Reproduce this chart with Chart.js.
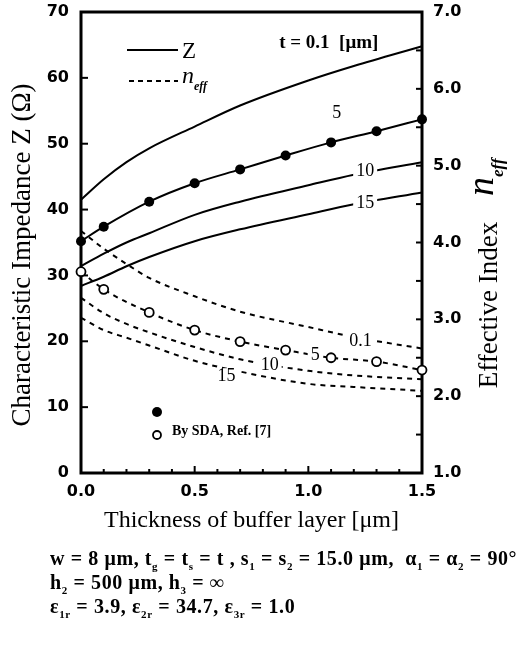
<!DOCTYPE html>
<html>
<head>
<meta charset="utf-8">
<script src="https://cdn.jsdelivr.net/npm/chart.js@4.4.1/dist/chart.umd.min.js"></script>
<style>
  html, body { margin: 0; padding: 0; background: #fff; }
  #wrap { position: relative; width: 519px; height: 647px; }
  #notes { position: absolute; left: 50px; top: 546px; font-family: "Liberation Serif", serif; font-weight: bold;
           font-size: 20px; letter-spacing: 0.6px; line-height: 24px; color: #000; white-space: nowrap; }
  #notes sub { font-size: 11px; vertical-align: -5px; line-height: 0; }
</style>
</head>
<body>
<div id="wrap">
  <canvas id="myChart" width="519" height="647"></canvas>
  <div id="notes">
    <div>w = 8 μm, t<sub>g</sub> = t<sub>s</sub> = t , s<sub>1</sub> = s<sub>2</sub> = 15.0 μm, &nbsp;α<sub>1</sub> = α<sub>2</sub> = 90°</div>
    <div>h<sub>2</sub> = 500 μm, h<sub>3</sub> = ∞</div>
    <div>ε<sub>1r</sub> = 3.9, ε<sub>2r</sub> = 34.7, ε<sub>3r</sub> = 1.0</div>
  </div>
</div>
<script>
// buffer layer thickness [um]
let thickness = [0, 0.1, 0.2, 0.3, 0.5, 0.7, 1.0, 1.2, 1.5];
let sdaThickness = [0, 0.1, 0.3, 0.5, 0.7, 0.9, 1.1, 1.3, 1.5];

// characteristic impedance Z (ohm), t = 0.1 / 5 / 10 / 15 um
let zT01 = [41.5, 44.6, 47.2, 49.3, 52.6, 55.8, 59.6, 61.8, 64.8];
let zT5  = [35.2, 37.4, 41.2, 44.0, 46.1, 48.2, 50.2, 51.9, 53.7];
let zT10 = [31.4, 33.3, 35.0, 36.4, 39.2, 41.2, 43.7, 45.3, 47.2];
let zT15 = [28.4, 29.8, 31.4, 32.8, 35.2, 37.0, 39.3, 40.8, 42.6];

// effective index n_eff
let nT01 = [4.15, 3.92, 3.72, 3.54, 3.30, 3.10, 2.90, 2.77, 2.62];
let nT5  = [3.62, 3.39, 3.09, 2.86, 2.71, 2.60, 2.50, 2.45, 2.34];
let nT10 = [3.28, 3.08, 2.94, 2.83, 2.64, 2.48, 2.33, 2.27, 2.22];
let nT15 = [3.02, 2.86, 2.76, 2.66, 2.46, 2.32, 2.16, 2.12, 2.07];

let xTickLabels = ['0.0', '0.5', '1.0', '1.5'];
let zTickLabels = ['0', '10', '20', '30', '40', '50', '60', '70'];
let nTickLabels = ['1.0', '2.0', '3.0', '4.0', '5.0', '6.0', '7.0'];

// curve labels, placed in data units
let curveLabels = [
  { text: '5',  x: 1.125, v: 54.6, axis: 'y',  bg: false },
  { text: '10', x: 1.25,  v: 45.8, axis: 'y',  bg: true },
  { text: '15', x: 1.25,  v: 40.9, axis: 'y',  bg: true },
  { text: '0.1', x: 1.23, v: 2.72, axis: 'y2', bg: true },
  { text: '5',  x: 1.03,  v: 2.53, axis: 'y2', bg: true },
  { text: '10', x: 0.83,  v: 2.40, axis: 'y2', bg: true },
  { text: '15', x: 0.64,  v: 2.26, axis: 'y2', bg: true }
];

let pts = (xs, ys) => xs.map((x, i) => ({ x: x, y: ys[i] }));

let solid = (xs, ys, extra) => Object.assign({
  data: pts(xs, ys), yAxisID: 'y', borderColor: '#000', borderWidth: 2,
  pointRadius: 0, cubicInterpolationMode: 'monotone', clip: false
}, extra || {});

let dashed = (xs, ys, extra) => Object.assign({
  data: pts(xs, ys), yAxisID: 'y2', borderColor: '#000', borderWidth: 2, borderDash: [5, 5],
  pointRadius: 0, cubicInterpolationMode: 'monotone', clip: false
}, extra || {});

let tick = (ctx, x1, y1, x2, y2) => { ctx.beginPath(); ctx.moveTo(x1, y1); ctx.lineTo(x2, y2); ctx.stroke(); };

// keep the plot box fixed: no extra room for half tick labels
let fixBox = size => s => {
  Object.assign(s, size);
  s.paddingTop = 0; s.paddingBottom = 0; s.paddingLeft = 0; s.paddingRight = 0;
};

let decor = {
  id: 'decor',
  beforeDatasetsDraw(chart) {
    let { ctx, chartArea: a, scales } = chart;
    ctx.save();
    ctx.strokeStyle = '#000';
    ctx.lineWidth = 3;
    ctx.strokeRect(a.left, a.top, a.right - a.left, a.bottom - a.top);
    ctx.lineWidth = 2;
    for (let i = 1; i < 15; i++) {
      let px = scales.x.getPixelForValue(i / 10);
      tick(ctx, px, a.bottom, px, a.bottom - (i % 5 === 0 ? 7 : 4));
    }
    for (let v = 10; v < 70; v += 10) {
      let py = scales.y.getPixelForValue(v);
      tick(ctx, a.left, py, a.left + 7, py);
    }
    for (let v = 1.5; v < 7; v += 0.5) {
      let py = scales.y2.getPixelForValue(v);
      tick(ctx, a.right, py, a.right - 6, py);
    }
    ctx.restore();
  },
  afterDatasetsDraw(chart) {
    let { ctx, chartArea: a, scales } = chart;
    ctx.save();
    ctx.fillStyle = '#000';
    ctx.textAlign = 'center';
    ctx.textBaseline = 'middle';
    ctx.font = '18px "Liberation Serif"';
    curveLabels.forEach(l => {
      let px = scales.x.getPixelForValue(l.x);
      let py = scales[l.axis].getPixelForValue(l.v);
      if (l.bg) {
        let w = ctx.measureText(l.text).width;
        ctx.fillStyle = '#fff';
        ctx.fillRect(px - w / 2 - 3, py - 8, w + 6, 16);
        ctx.fillStyle = '#000';
      }
      ctx.fillText(l.text, px, py);
    });

    ctx.font = 'bold 19px "Liberation Serif"';
    ctx.fillText('t = 0.1  [μm]', scales.x.getPixelForValue(1.09), scales.y.getPixelForValue(65.3));

    // legend (lines)
    let lx = a.left + 46, ly = a.top + 38;
    ctx.lineWidth = 2;
    ctx.strokeStyle = '#000';
    tick(ctx, lx, ly, lx + 51, ly);
    ctx.setLineDash([5, 4]);
    tick(ctx, lx + 2, ly + 31, lx + 51, ly + 31);
    ctx.setLineDash([]);
    ctx.textAlign = 'left';
    ctx.font = '23px "Liberation Serif"';
    ctx.fillText('Z', lx + 55, ly + 2);
    ctx.font = 'italic 24px "Liberation Serif"';
    ctx.fillText('n', lx + 55, ly + 27);
    ctx.font = 'italic bold 12px "Liberation Serif"';
    ctx.fillText('eff', lx + 67, ly + 37);

    // legend (markers)
    let mx = a.left + 76, my = a.top + 400;
    ctx.beginPath(); ctx.arc(mx, my, 5, 0, Math.PI * 2); ctx.fill();
    ctx.beginPath(); ctx.arc(mx, my + 23, 4, 0, Math.PI * 2);
    ctx.fillStyle = '#fff'; ctx.fill(); ctx.lineWidth = 1.8; ctx.stroke();
    ctx.fillStyle = '#000';
    ctx.font = 'bold 14px "Liberation Serif"';
    ctx.fillText('By SDA, Ref. [7]', mx + 15, my + 19);
    ctx.restore();
  },
  afterDraw(chart) {
    let { ctx, chartArea: a } = chart;
    ctx.save();
    ctx.fillStyle = '#000';
    ctx.textAlign = 'center';
    ctx.textBaseline = 'middle';
    ctx.font = '24px "Liberation Serif"';
    ctx.fillText('Thickness of buffer layer [μm]', (a.left + a.right) / 2, 521);

    ctx.font = '27px "Liberation Serif"';
    ctx.save();
    ctx.translate(23, 255);
    ctx.rotate(-Math.PI / 2);
    ctx.fillText('Characteristic Impedance Z (Ω)', 0, 0);
    ctx.restore();

    ctx.save();
    ctx.translate(490, 305);
    ctx.rotate(-Math.PI / 2);
    ctx.fillText('Effective Index', 0, 0);
    ctx.restore();

    ctx.save();
    ctx.translate(488, 196);
    ctx.rotate(-Math.PI / 2);
    ctx.textAlign = 'left';
    ctx.font = 'italic 38px "Liberation Serif"';
    ctx.fillText('n', 0, -5);
    ctx.font = 'italic bold 17px "Liberation Serif"';
    ctx.fillText('eff', 19, 11);
    ctx.restore();
    ctx.restore();
  }
};

let tickFont = { family: 'DejaVu Sans', size: 16, weight: 'bold' };

let ctx = document.getElementById('myChart').getContext('2d');
let chart = new Chart(ctx, {
  type: 'line',
  data: {
    datasets: [
      solid(thickness, zT01),
      solid(sdaThickness, zT5, { pointRadius: 5, pointBackgroundColor: '#000', pointBorderWidth: 0 }),
      solid(thickness, zT10),
      solid(thickness, zT15),
      dashed(thickness, nT01),
      dashed(sdaThickness, nT5, { pointRadius: 4.5, pointBackgroundColor: '#fff', pointBorderColor: '#000', pointBorderWidth: 1.8 }),
      dashed(thickness, nT10),
      dashed(thickness, nT15)
    ]
  },
  options: {
    responsive: false,
    devicePixelRatio: 1,
    animation: false,
    layout: { padding: { top: 12, left: 0, right: 0, bottom: 0 } },
    plugins: { legend: { display: false }, tooltip: { enabled: false } },
    scales: {
      x: {
        type: 'linear', min: 0, max: 1.5,
        grid: { display: false, drawTicks: false }, border: { display: false },
        ticks: { stepSize: 0.5, autoSkip: false, maxRotation: 0, padding: 9, color: '#000',
                 font: tickFont, callback: (v, i) => xTickLabels[i] },
        afterFit: fixBox({ height: 174 })
      },
      y: {
        position: 'left', min: 0, max: 70,
        grid: { display: false, drawTicks: false }, border: { display: false },
        ticks: { stepSize: 10, autoSkip: false, padding: 12, color: '#000',
                 font: tickFont, callback: (v, i) => zTickLabels[i] },
        afterFit: fixBox({ width: 81 })
      },
      y2: {
        position: 'right', min: 1, max: 7,
        grid: { display: false, drawTicks: false }, border: { display: false },
        ticks: { stepSize: 1, autoSkip: false, padding: 11, color: '#000',
                 font: tickFont, callback: (v, i) => nTickLabels[i] },
        afterFit: fixBox({ width: 97 })
      }
    }
  },
  plugins: [decor]
});
</script>
</body>
</html>
